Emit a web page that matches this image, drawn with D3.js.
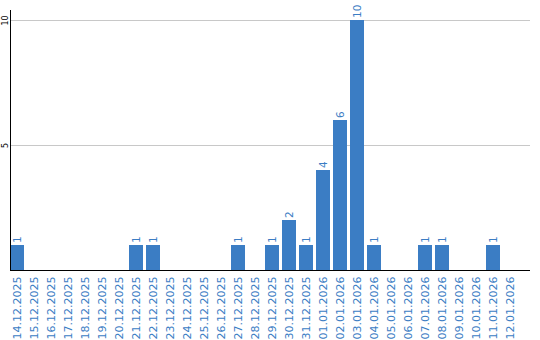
<!DOCTYPE html>
<html><head><meta charset="utf-8">
<script src="https://cdn.jsdelivr.net/npm/d3@7/dist/d3.min.js"></script>
<style>body{margin:0;background:#fff}svg{display:block}</style>
</head><body><svg width="540" height="340"></svg>
<script>
const dates = ["14.12.2025","15.12.2025","16.12.2025","17.12.2025","18.12.2025","19.12.2025","20.12.2025","21.12.2025","22.12.2025","23.12.2025","24.12.2025","25.12.2025","26.12.2025","27.12.2025","28.12.2025","29.12.2025","30.12.2025","31.12.2025","01.01.2026","02.01.2026","03.01.2026","04.01.2026","05.01.2026","06.01.2026","07.01.2026","08.01.2026","09.01.2026","10.01.2026","11.01.2026","12.01.2026"];
const counts = [1,0,0,0,0,0,0,1,1,0,0,0,0,1,0,1,2,1,4,6,10,1,0,0,1,1,0,0,1,0];
const yTicks = [5,10];

const svg = d3.select("svg");
const blue = "#3b7dc4";
const x = d3.scaleBand().domain(dates).range([10,520]).paddingInner(3/17).paddingOuter(3/34).align(0);
const y = d3.scaleLinear().domain([0,10.4]).range([270,10]);

// gridlines
svg.append("g").selectAll("line").data(yTicks).join("line")
  .attr("x1",11).attr("x2",530).attr("y1",d=>Math.round(y(d))+0.5).attr("y2",d=>Math.round(y(d))+0.5)
  .attr("stroke","#c8c8c8").attr("stroke-width",1);

const data = dates.map((d,i)=>({d, v:counts[i]}));
const bars = data.filter(o=>o.v>0);
svg.append("g").selectAll("rect").data(bars).join("rect")
  .attr("x",o=>x(o.d)).attr("width",x.bandwidth())
  .attr("y",o=>y(o.v)).attr("height",o=>y(0)-y(o.v))
  .attr("fill",blue);

// value labels
svg.append("g").selectAll("text").data(bars).join("text")
  .attr("transform",o=>`translate(${x(o.d)+x.bandwidth()/2+4},${y(o.v)-2}) rotate(-90)`)
  .attr("fill",blue).attr("font-family","DejaVu Sans").attr("font-size",10.5)
  .text(o=>o.v);

// y axis
const yAxis = svg.append("g").attr("transform","translate(10.5,0)")
  .call(d3.axisLeft(y).tickValues(yTicks).tickSize(0).tickFormat(d3.format("d")));
yAxis.select(".domain").attr("stroke","#000").attr("d","M0,10V270");
yAxis.selectAll("text").attr("font-family","DejaVu Sans").attr("font-size",8).attr("fill","#000")
  .attr("x",0).attr("dy",0).attr("y",0).attr("text-anchor","middle")
  .attr("transform","translate(-3,0) rotate(-90)");

// x axis
const xAxis = svg.append("g").attr("transform","translate(0,270.5)")
  .call(d3.axisBottom(x).tickSize(0).tickSizeOuter(0));
xAxis.select(".domain").attr("stroke","#000").attr("d","M10,0H530");
xAxis.selectAll("text").attr("font-family","DejaVu Sans").attr("font-size",11).attr("fill",blue)
  .attr("text-anchor","end").attr("dy",0).attr("y",0)
  .attr("transform","translate(4,6) rotate(-90)").attr("x",0);
</script></body></html>
